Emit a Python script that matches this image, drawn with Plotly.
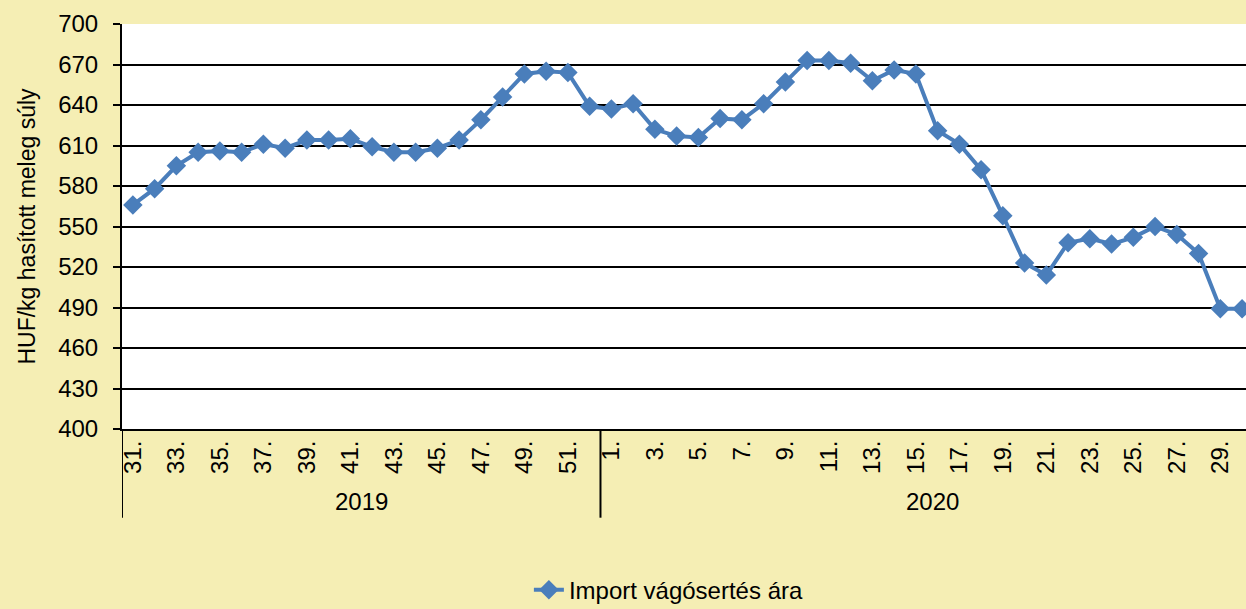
import plotly.graph_objects as go

weeks_2019 = [f"{w}." for w in range(31, 53)]
weeks_2020 = [f"{w}." for w in range(1, 31)]
prices_2019 = [566, 578, 595, 605, 606, 605, 611, 608, 614, 614, 615, 609, 605,
               605, 608, 614, 629, 646, 663, 665, 664, 639]
prices_2020 = [637, 641, 622, 617, 616, 630, 629, 641, 657, 673, 673, 671, 658,
               666, 663, 621, 611, 592, 558, 523, 514, 538, 541, 537, 542, 550,
               544, 530, 489, 489]
year_labels = ["2019", "2020"]
series_name = "Import vágósertés ára"

categories = weeks_2019 + weeks_2020
values = prices_2019 + prices_2020
tick_vals = categories[::2]

BG = "#F5EEB4"
BLUE = "#4A7EBB"
FONT = "Liberation Sans, Arial, sans-serif"
FS = 24

fig = go.Figure()
fig.add_trace(go.Scatter(
    x=categories, y=values, mode="lines+markers", name=series_name,
    line=dict(color=BLUE, width=4),
    marker=dict(symbol="diamond", size=15, color=BLUE),
    showlegend=True,
))

n19 = len(weeks_2019)
n = len(categories)
# group dividers
for xpos in [-0.5, n19 - 0.5]:
    fig.add_shape(type="line", xref="x", yref="paper", x0=xpos, x1=xpos,
                  y0=0, y1=-0.219, line=dict(color="black", width=2))
# year labels
fig.add_annotation(x=(n19 - 1) / 2, y=-0.18, xref="x", yref="paper",
                   text=year_labels[0], showarrow=False, yanchor="middle",
                   font=dict(family=FONT, size=FS, color="black"))
fig.add_annotation(x=(n19 - 0.5 + n) / 2, y=-0.18, xref="x", yref="paper",
                   text=year_labels[1], showarrow=False, yanchor="middle",
                   font=dict(family=FONT, size=FS, color="black"))

fig.update_layout(
    width=1246, height=609,
    margin=dict(l=122, r=0, t=24, b=180, autoexpand=False),
    paper_bgcolor=BG, plot_bgcolor="white",
    font=dict(family=FONT, size=FS, color="black"),
    legend=dict(orientation="h", x=0.362, y=-0.398, xanchor="left", yanchor="middle",
                font=dict(family=FONT, size=FS, color="black"),
                bgcolor="rgba(0,0,0,0)"),
    xaxis=dict(
        type="category", categoryorder="array", categoryarray=categories,
        range=[-0.5, 51.18], tickmode="array", tickvals=tick_vals,
        ticktext=tick_vals, tickangle=-90, ticks="", showgrid=False,
        showline=True, linecolor="black", linewidth=2, automargin=False,
        tickfont=dict(family=FONT, size=FS, color="black"),
    ),
    yaxis=dict(
        range=[400, 700], dtick=30, tick0=400, showgrid=True,
        gridcolor="black", gridwidth=2, showline=True, linecolor="black",
        linewidth=2, ticks="outside", ticklen=7, tickwidth=2, tickcolor="black",
        zeroline=False, mirror=False, ticklabelstandoff=10, automargin=False,
        tickfont=dict(family=FONT, size=FS, color="black"),
        title=dict(text="HUF/kg hasított meleg súly", standoff=16,
                   font=dict(family=FONT, size=23, color="black")),
    ),
)

fig.write_html("out.html", config={"displayModeBar": False},
               post_script="document.body.style.margin='0';document.body.style.overflow='hidden';")
